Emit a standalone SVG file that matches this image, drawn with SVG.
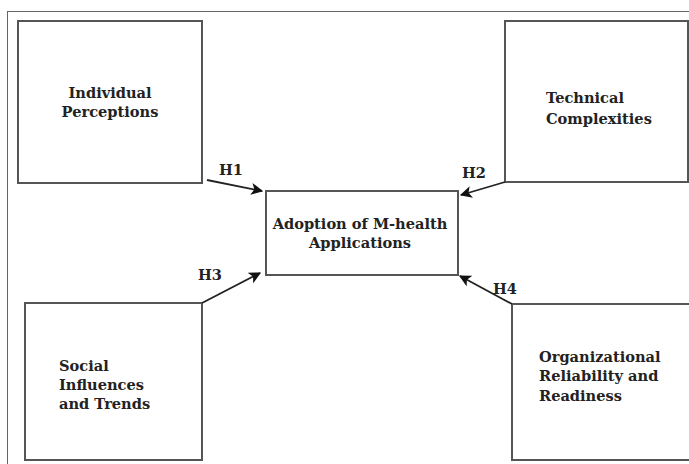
<svg xmlns="http://www.w3.org/2000/svg" width="689" height="464" viewBox="0 0 689 464">
<style>
.box{fill:#fff;stroke:#555;stroke-width:2}
.t{font-family:"DejaVu Serif","Liberation Serif",serif;font-weight:bold;font-size:14.6px;fill:#222}
.c{text-anchor:middle}
.arr{stroke:#222;stroke-width:1.8;fill:none;marker-end:url(#ah)}
</style>
<defs>
<marker id="ah" viewBox="0 0 10 10" refX="9" refY="5" markerWidth="12" markerHeight="12" orient="auto" markerUnits="userSpaceOnUse">
<path d="M0,0 L10,5 L0,10 L2.5,5 z" fill="#111"/>
</marker>
</defs>
<rect x="7.5" y="11.5" width="700" height="470" fill="#fff" stroke="#666" stroke-width="1"/>
<g id="individual">
<rect class="box" x="18" y="21" width="184" height="162"/>
<text class="t c" x="110" y="98">Individual</text>
<text class="t c" x="110" y="117">Perceptions</text>
</g>
<g id="technical">
<rect class="box" x="505" y="21" width="183" height="161"/>
<text class="t" x="546" y="103">Technical</text>
<text class="t" x="546" y="124">Complexities</text>
</g>
<g id="adoption">
<rect class="box" x="266" y="191" width="192" height="84"/>
<text class="t c" x="360" y="229">Adoption of M-health</text>
<text class="t c" x="360" y="248">Applications</text>
</g>
<g id="social">
<rect class="box" x="25" y="303" width="177" height="157"/>
<text class="t" x="59" y="371">Social</text>
<text class="t" x="59" y="390">Influences</text>
<text class="t" x="59" y="409">and Trends</text>
</g>
<g id="organizational">
<rect class="box" x="512" y="304" width="180" height="156"/>
<text class="t" x="539" y="362">Organizational</text>
<text class="t" x="539" y="381">Reliability and</text>
<text class="t" x="539" y="401">Readiness</text>
</g>
<g id="connectors">
<line class="arr" x1="207" y1="180" x2="262" y2="191"/>
<line class="arr" x1="505" y1="182" x2="461" y2="195"/>
<line class="arr" x1="202" y1="303" x2="260" y2="273"/>
<line class="arr" x1="512" y1="304" x2="460" y2="276"/>
<text class="t" x="219" y="175">H1</text>
<text class="t" x="462" y="178">H2</text>
<text class="t" x="198" y="280">H3</text>
<text class="t" x="493" y="294">H4</text>
</g>
</svg>
